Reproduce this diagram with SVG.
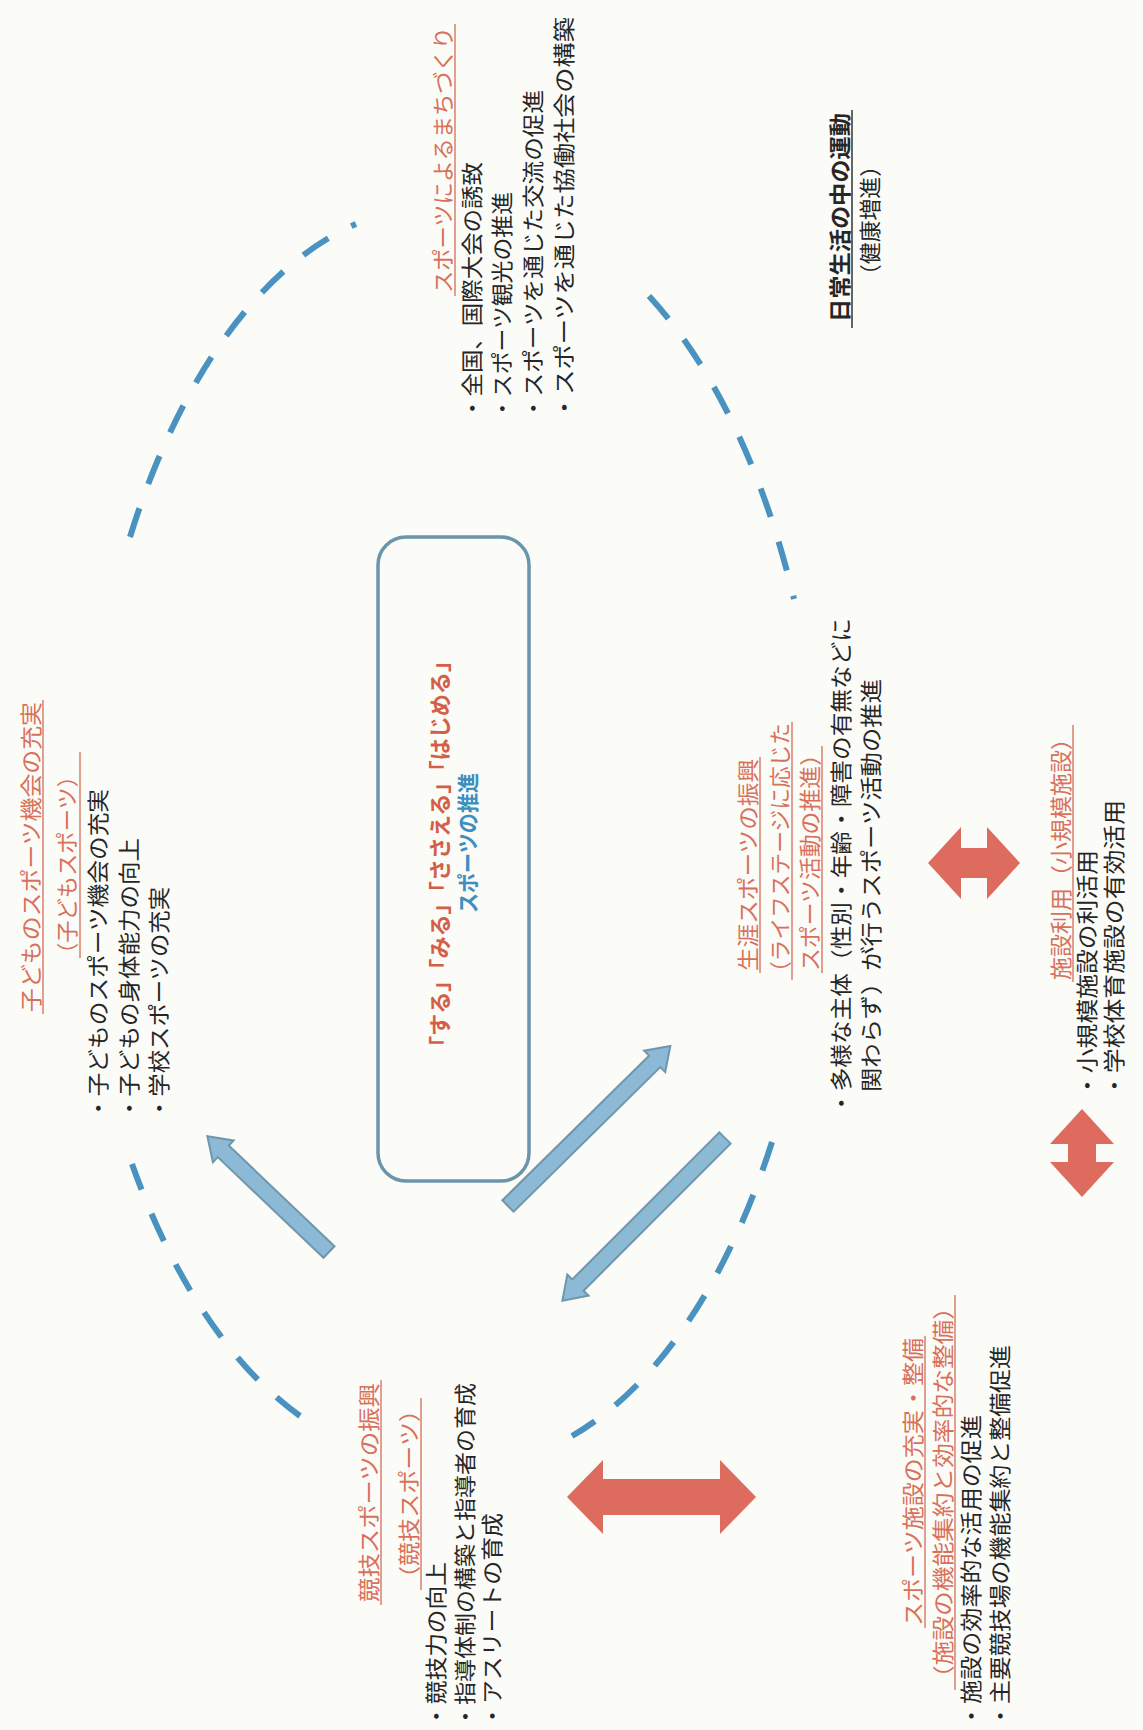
<svg xmlns="http://www.w3.org/2000/svg" width="1143" height="1730" viewBox="0 0 1143 1730">
<style>
text{font-family:"Noto Sans CJK JP","Noto Sans CJK SC",sans-serif;font-size:22px;}
.o{fill:#d9705a}
.k{fill:#262626}
.b{font-weight:bold}
.ul{stroke:#d9826a;stroke-width:1.5}
.ulk{stroke:#333;stroke-width:1.5}
.dash{fill:none;stroke:#4a92bf;stroke-width:6;stroke-dasharray:30 26}
.barrow{fill:#8cbad6;stroke:#7096ab;stroke-width:2}
.rarrow{fill:#dd6b5e}
</style>
<rect width="1143" height="1730" fill="#fbfbf8"/>

<g id="ring">
<path class="dash" d="M130,537 A353,662 0 0 1 356,224"/>
<path class="dash" d="M649,296 A353,662 0 0 1 794,599"/>
<path class="dash" d="M772,1142 A353,662 0 0 1 572,1436"/>
<path class="dash" d="M300,1416 A353,662 0 0 1 132,1164"/>
</g>

<g id="machizukuri">
<text class="o" transform="translate(451,293) rotate(-90)" textLength="266" lengthAdjust="spacingAndGlyphs">スポーツによるまちづくり</text>
<line class="ul" x1="455" y1="296" x2="455" y2="24"/>
<text class="k" transform="translate(480,420) rotate(-90)" textLength="258" lengthAdjust="spacingAndGlyphs">・全国、国際大会の誘致</text>
<text class="k" transform="translate(510,420) rotate(-90)" textLength="228" lengthAdjust="spacingAndGlyphs">・スポーツ観光の推進</text>
<text class="k" transform="translate(541,420) rotate(-90)" textLength="330" lengthAdjust="spacingAndGlyphs">・スポーツを通じた交流の促進</text>
<text class="k" transform="translate(572,420) rotate(-90)" textLength="403" lengthAdjust="spacingAndGlyphs">・スポーツを通じた協働社会の構築</text>
</g>

<g id="nichijo">
<text class="k b" font-size="23" transform="translate(848,322) rotate(-90)" textLength="209" lengthAdjust="spacingAndGlyphs">日常生活の中の運動</text>
<line class="ulk" x1="852" y1="328" x2="852" y2="110"/>
<text class="k" transform="translate(878,286) rotate(-90)" textLength="131" lengthAdjust="spacingAndGlyphs">（健康増進）</text>
</g>

<g id="kodomo">
<text class="o" transform="translate(39,1012) rotate(-90)" textLength="310" lengthAdjust="spacingAndGlyphs">子どものスポーツ機会の充実</text>
<line class="ul" x1="43" y1="1014" x2="43" y2="700"/>
<text class="o" transform="translate(75,965) rotate(-90)" textLength="200" lengthAdjust="spacingAndGlyphs">（子どもスポーツ）</text>
<line class="ul" x1="80" y1="958" x2="80" y2="752"/>
<text class="k" transform="translate(106,1120) rotate(-90)" textLength="331" lengthAdjust="spacingAndGlyphs">・子どものスポーツ機会の充実</text>
<text class="k" transform="translate(137,1120) rotate(-90)" textLength="282" lengthAdjust="spacingAndGlyphs">・子どもの身体能力の向上</text>
<text class="k" transform="translate(167,1120) rotate(-90)" textLength="233" lengthAdjust="spacingAndGlyphs">・学校スポーツの充実</text>
</g>

<g id="center">
<rect x="378" y="537" width="151" height="644" rx="28" fill="none" stroke="#6a95ab" stroke-width="3.5"/>
<text class="b" fill="#d45f48" font-size="21" transform="translate(448,1058) rotate(-90)" textLength="408" lengthAdjust="spacingAndGlyphs">「する」「みる」「ささえる」「はじめる」</text>
<text class="b" fill="#3d8fc0" font-size="21" transform="translate(476,913) rotate(-90)" textLength="140" lengthAdjust="spacingAndGlyphs">スポーツの推進</text>
</g>

<g id="shogai">
<text class="o" transform="translate(756,971) rotate(-90)" textLength="212" lengthAdjust="spacingAndGlyphs">生涯スポーツの振興</text>
<line class="ul" x1="760" y1="973" x2="760" y2="757"/>
<text class="o" transform="translate(788,983) rotate(-90)" textLength="260" lengthAdjust="spacingAndGlyphs">（ライフステージに応じた</text>
<line class="ul" x1="792" y1="980" x2="792" y2="722"/>
<text class="o" transform="translate(818,971) rotate(-90)" textLength="228" lengthAdjust="spacingAndGlyphs">スポーツ活動の推進）</text>
<line class="ul" x1="822" y1="973" x2="822" y2="746"/>
<text class="k" transform="translate(849,1115) rotate(-90)" textLength="497" lengthAdjust="spacingAndGlyphs">・多様な主体（性別・年齢・障害の有無などに</text>
<text class="k" transform="translate(879,1092) rotate(-90)" textLength="413" lengthAdjust="spacingAndGlyphs">関わらず）が行うスポーツ活動の推進</text>
</g>

<g id="shisetsu_riyo">
<text class="o" transform="translate(1069,980) rotate(-90)" textLength="253" lengthAdjust="spacingAndGlyphs">施設利用（小規模施設）</text>
<line class="ul" x1="1073" y1="982" x2="1073" y2="725"/>
<text class="k" transform="translate(1095,1098) rotate(-90)" textLength="248" lengthAdjust="spacingAndGlyphs">・小規模施設の利活用</text>
<text class="k" transform="translate(1122,1098) rotate(-90)" textLength="298" lengthAdjust="spacingAndGlyphs">・学校体育施設の有効活用</text>
</g>

<g id="kyogi">
<text class="o" transform="translate(377,1602) rotate(-90)" textLength="219" lengthAdjust="spacingAndGlyphs">競技スポーツの振興</text>
<line class="ul" x1="381" y1="1605" x2="381" y2="1380"/>
<text class="o" transform="translate(417,1590) rotate(-90)" textLength="192" lengthAdjust="spacingAndGlyphs">（競技スポーツ）</text>
<line class="ul" x1="421" y1="1590" x2="421" y2="1398"/>
<text class="k" transform="translate(444,1728) rotate(-90)" textLength="166" lengthAdjust="spacingAndGlyphs">・競技力の向上</text>
<text class="k" transform="translate(473,1728) rotate(-90)" textLength="345" lengthAdjust="spacingAndGlyphs">・指導体制の構築と指導者の育成</text>
<text class="k" transform="translate(500,1728) rotate(-90)" textLength="215" lengthAdjust="spacingAndGlyphs">・アスリートの育成</text>
</g>

<g id="shisetsu_seibi">
<text class="o" transform="translate(921,1626) rotate(-90)" textLength="288" lengthAdjust="spacingAndGlyphs">スポーツ施設の充実・整備</text>
<line class="ul" x1="925" y1="1628" x2="925" y2="1336"/>
<text class="o" transform="translate(951,1690) rotate(-90)" textLength="395" lengthAdjust="spacingAndGlyphs">（施設の機能集約と効率的な整備）</text>
<line class="ul" x1="955" y1="1690" x2="955" y2="1295"/>
<text class="k" transform="translate(979,1728) rotate(-90)" textLength="313" lengthAdjust="spacingAndGlyphs">・施設の効率的な活用の促進</text>
<text class="k" transform="translate(1008,1728) rotate(-90)" textLength="383" lengthAdjust="spacingAndGlyphs">・主要競技場の機能集約と整備促進</text>
</g>

<g id="connectors">
<polygon class="barrow" transform="translate(329,1252) rotate(-136.4)" points="0,-8 146,-8 146,-15 168,0 146,15 146,8 0,8"/>
<polygon class="barrow" transform="translate(508,1206) rotate(-44.6)" points="0,-8 206,-8 206,-15 228,0 206,15 206,8 0,8"/>
<polygon class="barrow" transform="translate(725,1138) rotate(135)" points="0,-8 208,-8 208,-15 230,0 208,15 208,8 0,8"/>
<polygon class="rarrow" points="928,863 961,827 961,848 987,848 987,827 1020,863 987,899 987,878 961,878 961,899"/>
<polygon class="rarrow" points="1082,1109 1114,1144 1096,1144 1096,1162 1114,1162 1082,1197 1050,1162 1068,1162 1068,1144 1050,1144"/>
<polygon class="rarrow" points="567,1497 603,1460 603,1479 720,1479 720,1460 756,1497 720,1534 720,1515 603,1515 603,1534"/>
</g>
</svg>
